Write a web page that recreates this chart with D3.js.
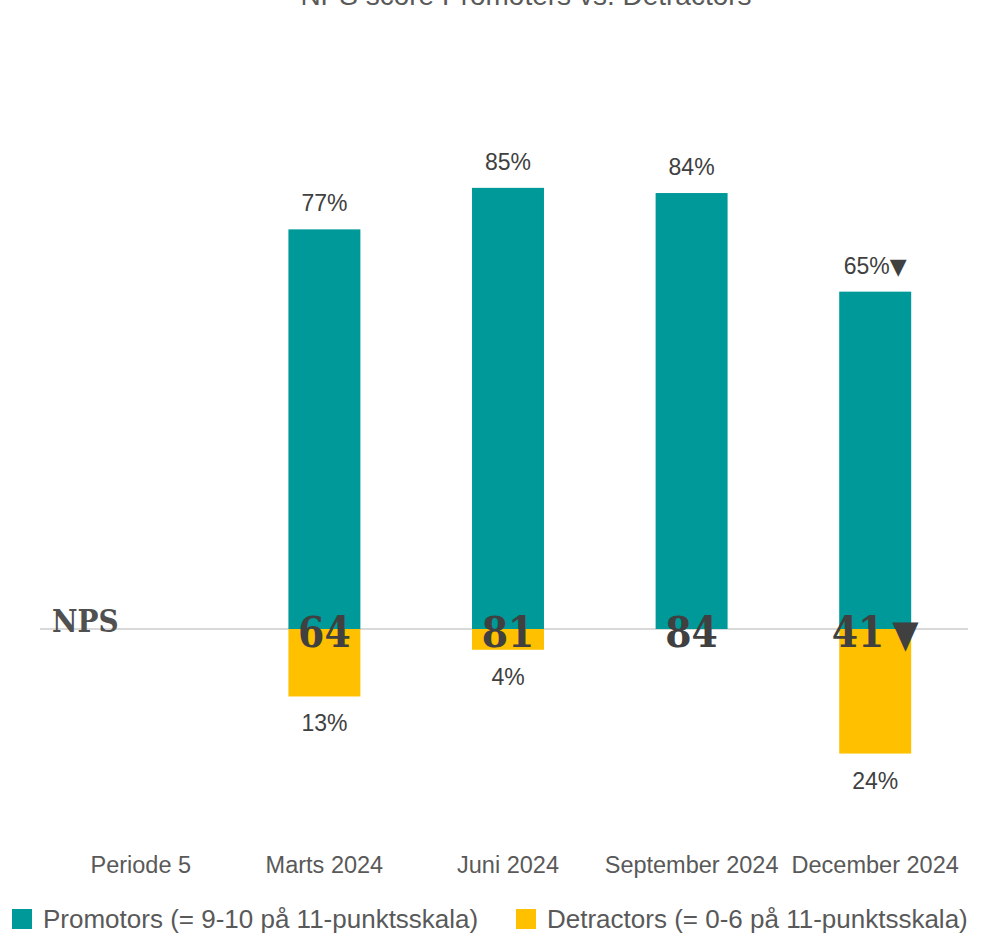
<!DOCTYPE html>
<html>
<head>
<meta charset="utf-8">
<script src="https://cdn.jsdelivr.net/npm/d3@7"></script>
<style>
  body { margin: 0; background: #fff; }
  svg { display: block; }
  text { font-family: "Liberation Sans", Arial, sans-serif; }
</style>
</head>
<body>
<script>
// NPS: promoters above zero, detractors below
var categories = ["Periode 5", "Marts 2024", "Juni 2024", "September 2024", "December 2024"];
var promoters = [null, 77, 85, 84, 65];
var detractors = [null, 13, 4, 0, 24];
var npsScores = [null, 64, 81, 84, 41];
var sigDown = [false, false, false, false, true]; // significant drop marker
var legendLabels = ["Promotors (= 9-10 på 11-punktsskala)", "Detractors (= 0-6 på 11-punktsskala)"];
var title = "NPS score Promoters vs. Detractors";

var width = 981, height = 934;
var teal = "#009999", yellow = "#FFC000", grey = "#595959", dark = "#404040";

var svg = d3.select("body").append("svg")
    .attr("width", width)
    .attr("height", height);

var x = d3.scaleBand()
    .domain(categories)
    .range([49, 967])
    .paddingInner(0.608)
    .paddingOuter(0.304);

var y = d3.scaleLinear()
    .domain([0, 100])
    .range([629, 110]);

var rows = categories.map(function(c, i) {
  return {cat: c, pro: promoters[i], det: detractors[i], nps: npsScores[i], down: sigDown[i]};
});
var filled = rows.filter(function(d) { return d.pro != null; });

// title (mostly cut off at the top edge, as in the source)
svg.append("text")
    .attr("x", 526)
    .attr("y", 5)
    .attr("text-anchor", "middle")
    .style("font-size", "28px")
    .style("fill", grey)
    .text(title);

// zero line
svg.append("line")
    .attr("x1", 40).attr("x2", 968)
    .attr("y1", y(0)).attr("y2", y(0))
    .style("stroke", "#d9d9d9")
    .style("stroke-width", 2);

svg.selectAll(".pro")
    .data(filled)
    .enter().append("rect")
    .attr("class", "pro")
    .attr("x", function(d) { return x(d.cat); })
    .attr("y", function(d) { return y(d.pro); })
    .attr("width", x.bandwidth())
    .attr("height", function(d) { return y(0) - y(d.pro); })
    .style("fill", teal);

svg.selectAll(".det")
    .data(filled)
    .enter().append("rect")
    .attr("class", "det")
    .attr("x", function(d) { return x(d.cat); })
    .attr("y", y(0))
    .attr("width", x.bandwidth())
    .attr("height", function(d) { return y(0) - y(d.det); })
    .style("fill", yellow);

// percentage labels
var proLab = svg.selectAll(".proLab")
    .data(filled)
    .enter().append("text")
    .attr("class", "proLab")
    .attr("x", function(d) { return x(d.cat) + x.bandwidth() / 2; })
    .attr("y", function(d) { return y(d.pro) - 18; })
    .attr("text-anchor", "middle")
    .style("font-size", "23px")
    .style("fill", dark);
proLab.append("tspan").text(function(d) { return d.pro + "%"; });
proLab.filter(function(d) { return d.down; }).append("tspan")
    .style("font-family", "'DejaVu Sans'")
    .style("font-size", "22px")
    .text("▼");

svg.selectAll(".detLab")
    .data(filled.filter(function(d) { return d.det > 0; }))
    .enter().append("text")
    .attr("class", "detLab")
    .attr("x", function(d) { return x(d.cat) + x.bandwidth() / 2; })
    .attr("y", function(d) { return y(-d.det) + 35; })
    .attr("text-anchor", "middle")
    .style("font-size", "23px")
    .style("fill", dark)
    .text(function(d) { return d.det + "%"; });

// NPS score on the zero line
svg.append("text")
    .attr("x", 52)
    .attr("y", 632)
    .style("font-family", "'DejaVu Serif Condensed', 'DejaVu Serif', serif")
    .style("font-stretch", "condensed")
    .style("font-weight", "bold")
    .style("font-size", "31px")
    .style("fill", "#505050")
    .text("NPS");

var npsLab = svg.selectAll(".npsLab")
    .data(filled)
    .enter().append("text")
    .attr("class", "npsLab")
    .attr("x", function(d) { return x(d.cat) + x.bandwidth() / 2; })
    .attr("y", 647)
    .attr("text-anchor", "middle")
    .style("font-family", "'DejaVu Serif Condensed', 'DejaVu Serif', serif")
    .style("font-stretch", "condensed")
    .style("font-weight", "bold")
    .style("font-size", "42px")
    .style("fill", dark);
npsLab.append("tspan").text(function(d) { return d.nps; });
npsLab.filter(function(d) { return d.down; }).append("tspan")
    .attr("dx", 8)
    .style("font-family", "'DejaVu Sans'")
    .style("font-weight", "normal")
    .style("font-size", "38px")
    .text("▼");

// category labels
svg.selectAll(".cat")
    .data(rows)
    .enter().append("text")
    .attr("class", "cat")
    .attr("x", function(d) { return x(d.cat) + x.bandwidth() / 2; })
    .attr("y", 873)
    .attr("text-anchor", "middle")
    .style("font-size", "23.5px")
    .style("fill", grey)
    .text(function(d) { return d.cat; });

// legend
var legend = svg.selectAll(".leg")
    .data(legendLabels)
    .enter().append("g")
    .attr("class", "leg")
    .attr("transform", function(d, i) { return "translate(" + (i ? 516 : 12) + ",909)"; });
legend.append("rect")
    .attr("width", 20).attr("height", 20)
    .style("fill", function(d, i) { return i ? yellow : teal; });
legend.append("text")
    .attr("x", 31)
    .attr("y", 18.5)
    .style("font-size", "26px")
    .style("fill", grey)
    .text(function(d) { return d; });
</script>
</body>
</html>
